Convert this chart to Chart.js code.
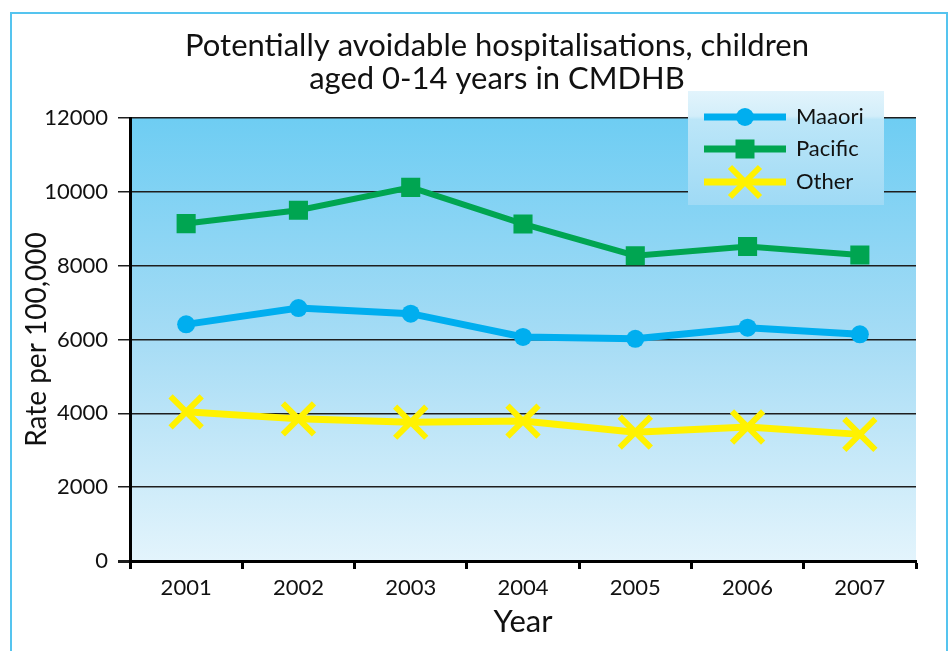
<!DOCTYPE html>
<html>
<head>
<meta charset="utf-8">
<title>Potentially avoidable hospitalisations, children aged 0-14 years in CMDHB</title>
<script src="https://cdn.jsdelivr.net/npm/chart.js@4.4.1/dist/chart.umd.min.js"></script>
<style>
  html, body { margin: 0; padding: 0; background: #ffffff; }
  #wrap { width: 951px; height: 651px; position: relative; }
</style>
</head>
<body>
<div id="wrap"><canvas id="chart" width="951" height="651"></canvas></div>
<script>
// Rates per 100,000 children aged 0-14, by ethnic group
const years = ['2001', '2002', '2003', '2004', '2005', '2006', '2007'];
const maori = [6410, 6850, 6700, 6070, 6020, 6320, 6140];
const pacific = [9140, 9500, 10120, 9130, 8270, 8520, 8290];
const other = [4040, 3850, 3760, 3790, 3490, 3630, 3430];
const yTickValues = [0, 2000, 4000, 6000, 8000, 10000, 12000];
const seriesNames = ['Maaori', 'Pacific', 'Other'];
const titleLines = ['Potentially avoidable hospitalisations, children', 'aged 0-14 years in CMDHB'];

const FONT = 'Lato, "Open Sans", "DejaVu Sans", sans-serif';
const INK = '#111111';

// Frame round the figure and the blue wash behind the plot
const backdrop = {
  id: 'backdrop',
  beforeDraw(chart) {
    const { ctx, chartArea: a } = chart;
    ctx.save();
    ctx.fillStyle = '#ffffff';
    ctx.fillRect(0, 0, chart.width, chart.height);
    ctx.strokeStyle = '#55c4ef';
    ctx.lineWidth = 2;
    ctx.strokeRect(11, 13, 936, 700);
    const g = ctx.createLinearGradient(0, a.top, 0, a.bottom);
    g.addColorStop(0, '#6ecdf3');
    g.addColorStop(0.5, '#a6dcf5');
    g.addColorStop(1, '#e3f4fc');
    ctx.fillStyle = g;
    ctx.fillRect(a.left, a.top, a.right - a.left, a.bottom - a.top);
    ctx.restore();
  }
};

// Two-line heading above the plot
const heading = {
  id: 'heading',
  afterDraw(chart) {
    const { ctx } = chart;
    ctx.save();
    ctx.fillStyle = INK;
    ctx.font = '31px ' + FONT;
    ctx.textAlign = 'center';
    ctx.textBaseline = 'middle';
    titleLines.forEach((line, i) => ctx.fillText(line, 497, 46 + i * 33));
    ctx.restore();
  }
};

// Boxed key in the upper right corner
const keyBox = {
  id: 'keyBox',
  afterDraw(chart) {
    const { ctx } = chart;
    const x0 = 688, y0 = 91, w = 196, h = 114;
    ctx.save();
    const g = ctx.createLinearGradient(0, y0, 0, y0 + h);
    g.addColorStop(0, '#e2f4fc');
    g.addColorStop(0.22, '#d3eefa');
    g.addColorStop(0.25, '#bce6f8');
    g.addColorStop(1, '#9fdaf5');
    ctx.fillStyle = g;
    ctx.fillRect(x0, y0, w, h);
    const rows = [117, 149, 182];
    chart.data.datasets.forEach((ds, i) => {
      const y = rows[i];
      const cx = 745;
      ctx.strokeStyle = ds.borderColor;
      ctx.lineWidth = 7;
      ctx.lineCap = 'butt';
      ctx.beginPath();
      ctx.moveTo(704, y);
      ctx.lineTo(786, y);
      ctx.stroke();
      ctx.fillStyle = ds.borderColor;
      if (ds.pointStyle === 'circle') {
        ctx.beginPath();
        ctx.arc(cx, y, 9, 0, Math.PI * 2);
        ctx.fill();
      } else if (ds.pointStyle === 'rect') {
        ctx.fillRect(cx - 9.5, y - 9.5, 19, 19);
      } else {
        ctx.lineWidth = 6;
        ctx.beginPath();
        ctx.moveTo(cx - 15, y - 15); ctx.lineTo(cx + 15, y + 15);
        ctx.moveTo(cx + 15, y - 15); ctx.lineTo(cx - 15, y + 15);
        ctx.stroke();
      }
      ctx.fillStyle = INK;
      ctx.font = '22px ' + FONT;
      ctx.textAlign = 'left';
      ctx.textBaseline = 'middle';
      ctx.fillText(ds.label, 796, y);
    });
    ctx.restore();
  }
};

new Chart(document.getElementById('chart'), {
  type: 'line',
  data: {
    labels: years,
    datasets: [
      {
        label: seriesNames[0], data: maori,
        borderColor: '#00aeef', backgroundColor: '#00aeef',
        borderWidth: 7, pointStyle: 'circle', pointRadius: 9,
        pointBackgroundColor: '#00aeef', pointBorderWidth: 0, tension: 0
      },
      {
        label: seriesNames[1], data: pacific,
        borderColor: '#00a551', backgroundColor: '#00a551',
        borderWidth: 6, pointStyle: 'rect', pointRadius: 13.5,
        pointBackgroundColor: '#00a551', pointBorderWidth: 0, tension: 0
      },
      {
        label: seriesNames[2], data: other,
        borderColor: '#fff200', backgroundColor: '#fff200',
        borderWidth: 7, pointStyle: 'crossRot', pointRadius: 22,
        pointBorderColor: '#fff200', pointBorderWidth: 6, tension: 0
      }
    ]
  },
  options: {
    responsive: false,
    animation: false,
    devicePixelRatio: 1,
    layout: { padding: { top: 118, right: 35, bottom: 0, left: 0 } },
    plugins: {
      legend: { display: false },
      title: { display: false },
      tooltip: { enabled: false }
    },
    scales: {
      x: {
        type: 'category',
        offset: true,
        grid: {
          offset: true, drawOnChartArea: false, drawTicks: true,
          tickLength: 8, tickColor: '#000000', tickWidth: 3
        },
        border: { display: true, color: '#000000', width: 3 },
        ticks: { color: INK, font: { family: FONT, size: 22 }, padding: 6, maxRotation: 0 },
        title: {
          display: true, text: 'Year', color: INK,
          font: { family: FONT, size: 31 }, padding: { top: 0, bottom: 10 }
        },
        afterFit(scale) { scale.height = 90; }
      },
      y: {
        min: 0, max: 12000,
        afterBuildTicks(scale) { scale.ticks = yTickValues.map(v => ({ value: v })); },
        ticks: {
          color: INK, font: { family: FONT, size: 22 }, padding: 10,
          callback: (v) => String(v)
        },
        grid: {
          color: '#1e1e1e',
          lineWidth: (c) => (c.tick && c.tick.value === 0 ? 3 : 1.5),
          tickLength: 12, drawTicks: true
        },
        border: { display: true, color: '#000000', width: 3 },
        title: {
          display: true, text: 'Rate per 100,000', color: INK,
          font: { family: FONT, size: 28 }, padding: { top: 20, bottom: 0 }
        },
        afterFit(scale) { scale.width = 130; }
      }
    }
  },
  plugins: [backdrop, heading, keyBox]
});
</script>
</body>
</html>
